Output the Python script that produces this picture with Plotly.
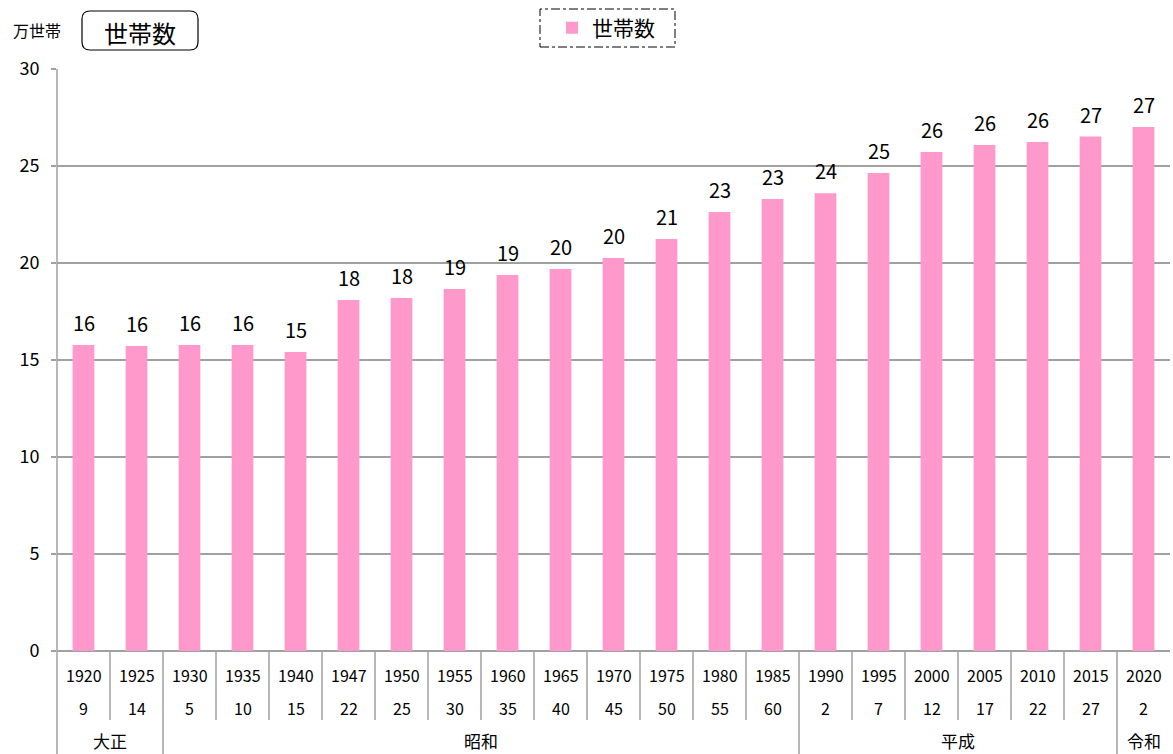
import plotly.graph_objects as go

years = ["1920", "1925", "1930", "1935", "1940", "1947", "1950", "1955", "1960", "1965", "1970",
         "1975", "1980", "1985", "1990", "1995", "2000", "2005", "2010", "2015", "2020"]
era_years = ["9", "14", "5", "10", "15", "22", "25", "30", "35", "40", "45",
             "50", "55", "60", "2", "7", "12", "17", "22", "27", "2"]
households = [15.77, 15.72, 15.77, 15.77, 15.41, 18.09, 18.2, 18.66, 19.38, 19.69, 20.26,
              21.24, 22.63, 23.3, 23.6, 24.64, 25.72, 26.08, 26.24, 26.52, 27.01]
value_labels = ["16", "16", "16", "16", "15", "18", "18", "19", "19", "20", "20",
                "21", "23", "23", "24", "25", "26", "26", "26", "27", "27"]
eras = ["大正", "昭和", "平成", "令和"]
era_spans = [(0, 1), (2, 13), (14, 19), (20, 20)]

FONT = "Noto Sans CJK JP"
GRAY = "#A0A0A0"
W, H = 1173, 754
L, R, T, B = 57, 3, 69, 103
PW, PH = W - L - R, H - T - B

def px(x):
    return (x - L) / PW

def py(y):
    return (H - B - y) / PH

n = len(years)
idx = list(range(n))

fig = go.Figure()
fig.add_trace(go.Bar(
    x=idx, y=households, name="世帯数",
    marker=dict(color="#FF99CC", line=dict(width=0)),
    cliponaxis=False, width=0.41,
))

annotations = []
shapes = []

def ann(x, y, text, size, xref="paper", yref="paper", yanchor="middle", yshift=0):
    annotations.append(dict(x=x, y=y, xref=xref, yref=yref, text=text, showarrow=False,
                            xanchor="center", yanchor=yanchor, yshift=yshift, borderpad=0,
                            font=dict(size=size, family=FONT, color="black")))

for i in idx:
    ann(i, households[i], value_labels[i], 20, xref="x", yref="y", yanchor="bottom", yshift=7)
    ann(i, py(675), years[i], 16, xref="x")
    ann(i, py(708), era_years[i], 16, xref="x")

era_bounds = set(a for (a, b) in era_spans)
for name, (a, b) in zip(eras, era_spans):
    ann((a + b) / 2, py(741), name, 17, xref="x")

for i in range(1, n):
    y_bottom = py(754) if i in era_bounds else py(720)
    shapes.append(dict(type="line", xref="x", yref="paper", x0=i - 0.5, x1=i - 0.5,
                       y0=0, y1=y_bottom, line=dict(color=GRAY, width=1.5)))
# left axis line extending down
shapes.append(dict(type="line", xref="paper", yref="paper", x0=0, x1=0,
                   y0=1, y1=py(754), line=dict(color=GRAY, width=1.5)))

# unit label
ann(px(37), py(30), "万世帯", 16)
# rounded box title
ann(px(140), py(32), "世帯数", 24)
x0, x1, y0, y1, r = 82, 198, 11, 50, 8
path = (f"M {px(x0 + r)} {py(y0)} L {px(x1 - r)} {py(y0)} Q {px(x1)} {py(y0)} {px(x1)} {py(y0 + r)} "
        f"L {px(x1)} {py(y1 - r)} Q {px(x1)} {py(y1)} {px(x1 - r)} {py(y1)} "
        f"L {px(x0 + r)} {py(y1)} Q {px(x0)} {py(y1)} {px(x0)} {py(y1 - r)} "
        f"L {px(x0)} {py(y0 + r)} Q {px(x0)} {py(y0)} {px(x0 + r)} {py(y0)} Z")
shapes.append(dict(type="path", xref="paper", yref="paper", path=path,
                   line=dict(color="black", width=1.2)))
# legend dash-dot frame
shapes.append(dict(type="rect", xref="paper", yref="paper", x0=px(540), x1=px(675),
                   y0=py(47), y1=py(9), line=dict(color="black", width=1, dash="dashdot")))

fig.update_layout(
    width=W, height=H,
    margin=dict(l=L, r=R, t=T, b=B, autoexpand=False),
    paper_bgcolor="white", plot_bgcolor="white",
    font=dict(family=FONT, color="black"),
    showlegend=True,
    legend=dict(x=px(606), y=py(28), xanchor="center", yanchor="middle",
                font=dict(size=21, family=FONT), bgcolor="rgba(0,0,0,0)", borderwidth=0,
                itemwidth=30),
    xaxis=dict(range=[-0.5, n - 0.5], showticklabels=False, showgrid=False, zeroline=False,
               showline=False, ticks="", fixedrange=True, automargin=False),
    yaxis=dict(range=[0, 30], dtick=5, showgrid=True, gridcolor=GRAY, gridwidth=1.5,
               zeroline=True, zerolinecolor=GRAY, zerolinewidth=1.5,
               showline=False, ticks="outside", ticklen=5, tickcolor=GRAY, tickwidth=1.5,
               tickfont=dict(size=18, family=FONT), ticklabelstandoff=8, automargin=False),
    annotations=annotations, shapes=shapes,
)

fig.write_html("out.html", config={"displayModeBar": False},
               post_script="document.body.style.margin='0';document.body.style.overflow='hidden';")
